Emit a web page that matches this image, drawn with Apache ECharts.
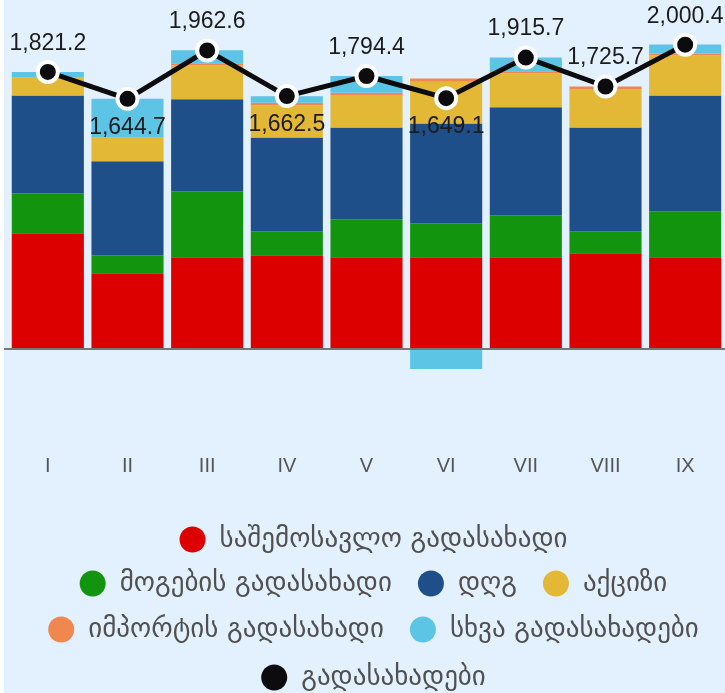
<!DOCTYPE html>
<html>
<head>
<meta charset="utf-8">
<script src="https://cdn.jsdelivr.net/npm/echarts@6/dist/echarts.min.js"></script>
<style>
  html, body { margin: 0; padding: 0; overflow: hidden; background: #fff; }
  #chart { position: absolute; left: 4px; top: 0; width: 739px; height: 693px; background: #e3f0fd; }
</style>
</head>
<body>
<div id="chart"></div>
<script>
// თვეები
var months = ['I', 'II', 'III', 'IV', 'V', 'VI', 'VII', 'VIII', 'IX'];

// მლნ ლარი, სურათიდან წაკითხული
var incomeTax  = [761, 499, 604, 617, 604, 604, 604, 630, 604];
var profitTax  = [262, 118, 433, 157, 249, 223, 276, 144, 302];
var vat        = [643, 617, 604, 617, 604, 656, 709, 683, 761];
var excise     = [118, 157, 223, 212, 212, 273, 223, 249, 263];
var importTax  = [4, 2, 15, 15, 15, 22, 13, 20, 13];
var otherTaxes = [33, 252, 84, 44, 110, -130, 91, 0, 58];
var totalTaxes = [1821.2, 1644.7, 1962.6, 1662.5, 1794.4, 1649.1, 1915.7, 1725.7, 2000.4];
var labelPos   = ['top', 'bottom', 'top', 'bottom', 'top', 'bottom', 'top', 'top', 'top'];

var names = ['საშემოსავლო გადასახადი', 'მოგების გადასახადი', 'დღგ', 'აქციზი',
             'იმპორტის გადასახადი', 'სხვა გადასახადები', 'გადასახადები'];
var colors = ['#dc0000', '#12940f', '#1f4f89', '#e3b837', '#f0874f', '#5cc4e5', '#0c0c0e'];

var barData = [incomeTax, profitTax, vat, excise, importTax, otherTaxes];

var font = '"Liberation Sans", "DejaVu Sans", Arial, sans-serif';
var legendFont = '"DejaVu Sans", "Liberation Sans", sans-serif';

var series = [];
barData.forEach(function (d, i) {
  var s = {
    name: names[i],
    type: 'bar',
    stack: 'taxes',
    barCategoryGap: '9.5%',
    itemStyle: { color: colors[i] },
    data: d
  };
  if (i === 0) {
    s.markLine = {
      silent: true,
      symbol: 'none',
      label: { show: false },
      lineStyle: { color: '#777', width: 2, type: 'solid' },
      data: [[{ x: 0, yAxis: 0 }, { x: 725, yAxis: 0 }]],
      z: 5
    };
  }
  series.push(s);
});

series.push({
  name: names[6],
  type: 'line',
  z: 10,
  symbol: 'circle',
  symbolSize: 20,
  lineStyle: { color: colors[6], width: 5 },
  itemStyle: { color: colors[6], borderColor: '#fff', borderWidth: 4 },
  label: {
    show: true,
    fontSize: 23,
    fontFamily: font,
    color: '#1c1c1c',
    distance: 5,
    formatter: function (p) {
      return p.value.toLocaleString('en-US', { minimumFractionDigits: 1, maximumFractionDigits: 1 });
    }
  },
  data: totalTaxes.map(function (v, i) {
    return { value: v, label: { position: labelPos[i] } };
  })
});

function legendRow(items, top) {
  return {
    top: top,
    left: 'center',
    itemWidth: 26,
    itemHeight: 26,
    itemGap: 26,
    icon: 'circle',
    selectedMode: false,
    itemStyle: { borderWidth: 0 },
    textStyle: { fontSize: 27, fontFamily: legendFont, color: '#505050', padding: [0, 0, 0, 9] },
    data: items
  };
}

var option = {
  animation: false,
  backgroundColor: '#e3f0fd',
  color: colors,
  grid: { left: 4, right: 18, top: 29.5, height: 411 },
  xAxis: {
    type: 'category',
    data: months,
    axisLine: { show: false, onZero: false },
    axisTick: { show: false },
    axisLabel: { fontSize: 20, fontFamily: font, color: '#555', margin: 16 }
  },
  yAxis: {
    type: 'value',
    min: -600,
    max: 2100,
    show: false,
    splitLine: { show: false }
  },
  legend: [
    legendRow([names[0]], 521),
    legendRow([names[1], names[2], names[3]], 565),
    legendRow([names[4], names[5]], 611),
    legendRow([names[6]], 659)
  ],
  series: series
};

var chart = echarts.init(document.getElementById('chart'));
chart.setOption(option);
</script>
</body>
</html>
